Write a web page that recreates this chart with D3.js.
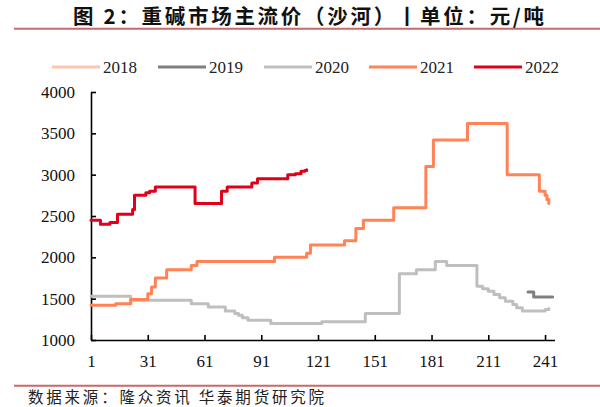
<!DOCTYPE html>
<html><head><meta charset="utf-8">
<script src="https://cdn.jsdelivr.net/npm/d3@7/dist/d3.min.js"></script>
<style>
body{margin:0;background:#fff;}
svg{display:block;}
</style></head>
<body>
<svg id="c" width="600" height="407"></svg>
<script>
// ---- data (step changes: day index, price) ----
const seriesNames = ["2018", "2019", "2020", "2021", "2022"];
const seriesColors = ["#fcc6b0", "#7f7f7f", "#bfbfbf", "#ff8356", "#e0001a"];

const days2018 = [];
const vals2018 = [];

const days2019 = [232, 235, 245];
const vals2019 = [1580, 1520, 1520];

const days2020 = [1, 22, 54, 63, 72, 77, 79, 81, 84, 96, 123, 146, 164, 173, 183, 189, 205, 208, 211, 214, 217, 220, 224, 226, 229, 241, 243];
const vals2020 = [1530, 1480, 1440, 1400, 1350, 1320, 1300, 1270, 1240, 1200, 1220, 1320, 1800, 1850, 1950, 1900, 1650, 1620, 1590, 1550, 1510, 1470, 1430, 1390, 1350, 1370, 1380];

const days2021 = [1, 14, 22, 31, 33, 35, 41, 54, 57, 98, 115, 117, 135, 141, 145, 161, 178, 182, 200, 221, 238, 241, 242, 243];
const vals2021 = [1420, 1440, 1490, 1560, 1640, 1750, 1850, 1900, 1950, 2000, 2050, 2150, 2200, 2350, 2450, 2600, 3100, 3420, 3620, 3000, 2800, 2750, 2700, 2650];

const days2022 = [1, 6, 11, 15, 23, 24, 30, 32, 35, 56, 70, 73, 86, 89, 105, 109, 112, 114, 115];
const vals2022 = [2450, 2400, 2420, 2520, 2580, 2750, 2780, 2800, 2850, 2650, 2800, 2850, 2900, 2950, 3000, 3010, 3040, 3050, 3060];

const xTicks = [1, 31, 61, 91, 121, 151, 181, 211, 241];
const yTicks = [1000, 1500, 2000, 2500, 3000, 3500, 4000];

const titleText = "图 2：重碱市场主流价（沙河）丨单位：元/吨";
const sourceText = "数据来源：隆众资讯 华泰期货研究院";

// ---- drawing ----
const svg = d3.select("#c");
const serif = "'Liberation Serif','Times New Roman',serif";
const cjk = "'Noto Sans CJK SC','Noto Sans',sans-serif";

const x = d3.scaleLinear().domain([1, 246]).range([91, 554.5]);
const y = d3.scaleLinear().domain([1000, 4000]).range([340, 92]);

// title
svg.append("text").attr("x", 73).attr("y", 16.5).attr("dy", "0.36em")
  .attr("font-family", cjk).attr("font-weight", "bold")
  .attr("font-size", 20.5).attr("fill", "#111")
  .attr("textLength", 471).attr("lengthAdjust", "spacing").text(titleText);
svg.append("line").attr("x1", 14).attr("x2", 600).attr("y1", 28.7).attr("y2", 28.7)
  .attr("stroke", "#c96a6a").attr("stroke-width", 2);

// legend
const legendX = [52, 158, 264, 369, 474];
const lg = svg.append("g");
seriesNames.forEach((n, i) => {
  lg.append("line").attr("x1", legendX[i]).attr("x2", legendX[i] + 48)
    .attr("y1", 67).attr("y2", 67).attr("stroke", seriesColors[i]).attr("stroke-width", 3);
  lg.append("text").attr("x", legendX[i] + 51).attr("y", 67).attr("dy", "0.35em")
    .attr("font-family", serif).attr("font-size", 17).attr("fill", "#222").text(n);
});

// axes
const yAxis = d3.axisLeft(y).tickValues(yTicks).tickFormat(d3.format("d"))
  .tickSize(-5).tickSizeOuter(0).tickPadding(16);
const xAxis = d3.axisBottom(x).tickValues(xTicks).tickFormat(d3.format("d"))
  .tickSize(-5).tickSizeOuter(0).tickPadding(15);

const gy = svg.append("g").attr("transform", "translate(91,0)").call(yAxis);
const gx = svg.append("g").attr("transform", "translate(0,340)").call(xAxis);
[gx, gy].forEach(g => {
  g.selectAll("path,line").attr("stroke", "#000").attr("stroke-width", 1.6);
  g.selectAll("text").attr("font-family", serif).attr("font-size", 17).attr("fill", "#111");
});

// lines
const line = d3.line().x(d => x(d[0])).y(d => y(d[1])).curve(d3.curveStepAfter);
const allDays = [days2018, days2019, days2020, days2021, days2022];
const allVals = [vals2018, vals2019, vals2020, vals2021, vals2022];
allDays.forEach((ds, i) => {
  if (!ds.length) return;
  const pts = ds.map((d, j) => [d, allVals[i][j]]);
  svg.append("path").datum(pts).attr("d", line).attr("fill", "none")
    .attr("stroke", seriesColors[i]).attr("stroke-width", 3)
    .attr("stroke-linejoin", "round").attr("stroke-linecap", "round");
});

// footer
svg.append("line").attr("x1", 14).attr("x2", 600).attr("y1", 385.7).attr("y2", 385.7)
  .attr("stroke", "#c96a6a").attr("stroke-width", 2);
svg.append("text").attr("x", 28).attr("y", 397.5).attr("dy", "0.35em")
  .attr("font-family", cjk).attr("font-size", 15.5).attr("fill", "#222")
  .attr("textLength", 296).attr("lengthAdjust", "spacing").text(sourceText);
</script>
</body></html>
